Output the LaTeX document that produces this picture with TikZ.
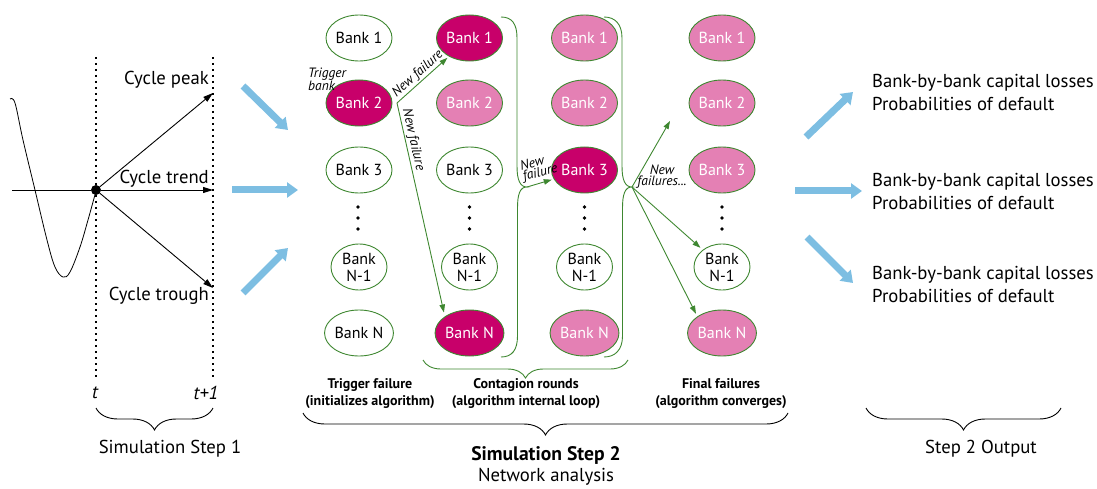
\documentclass[tikz,border=0pt]{standalone}
\usepackage{fontspec}
\setmainfont{PT Sans}
\usetikzlibrary{shapes.geometric,arrows.meta,decorations.pathreplacing}
\definecolor{netgreen}{RGB}{62,135,48}
\definecolor{failed}{RGB}{200,0,106}
\definecolor{hit}{RGB}{228,128,180}
\definecolor{flowblue}{RGB}{125,190,226}
\begin{document}
\begin{tikzpicture}[x=1pt,y=-1pt,
  bank/.style={ellipse,draw=netgreen,line width=0.9pt,minimum width=56pt,minimum height=46pt,
    inner sep=0pt,align=center,font=\fontsize{16}{17}\selectfont},
  ok/.style={bank,fill=white,text=black},
  fail/.style={bank,fill=failed,text=white},
  past/.style={bank,fill=hit,text=white},
  lbl/.style={font=\fontsize{18.7}{23}\selectfont,inner sep=0pt},
  note/.style={font=\fontsize{13.5}{11}\selectfont\itshape,inner sep=1pt},
  stage/.style={font=\fontsize{14}{17}\selectfont\bfseries,align=center,inner sep=0pt},
  gline/.style={draw=netgreen,line width=0.9pt},
  garrow/.style={gline,-{Triangle[length=8pt,width=5.5pt]},shorten >=2pt},
  karrow/.style={line width=0.9pt,-{Triangle[length=10pt,width=6pt]}},
  barrow/.style={draw=flowblue,line width=7pt,-{Triangle[length=11pt,width=15pt]}},
  guide/.style={line width=1.1pt,dash pattern=on 2pt off 4pt},
  curly/.style={decorate,decoration={brace,mirror,amplitude=#1},line width=0.9pt},
]
\useasboundingbox (0,0) rectangle (1097,489);

% ---------- Simulation step 1: business cycle scenarios ----------
\draw[guide] (96,57) -- (96,377);
\draw[guide] (213,57) -- (213,377);
\draw[line width=0.8pt] plot[smooth,tension=0.6] coordinates
  {(10,99) (15,103) (23,140) (35,190) (47,240) (55,267) (63,277) (70,272) (80,247) (88,220) (96,191)};
\coordinate (axisL) at (12,190);
\node[circle,fill=black,inner sep=0pt,minimum size=10pt] (now) at (96,190) {};
\coordinate (peak) at (213,93);
\coordinate (trend) at (213,190);
\coordinate (trough) at (213,288);
\draw[line width=0.9pt] (axisL) -- (now);
\draw[karrow] (now) -- (peak);
\draw[karrow] (now) -- (trend);
\draw[karrow] (now) -- (trough);
\node[lbl,anchor=east] (tpeak) at (209,80) {Cycle peak};
\node[lbl,anchor=east] (ttrend) at (209,179) {Cycle trend};
\node[lbl,anchor=east] (ttrough) at (209,296) {Cycle trough};
\node[lbl,font=\fontsize{18.7}{20}\selectfont\itshape] (tnow) at (95,393) {t};
\node[lbl,font=\fontsize{18.7}{20}\selectfont\itshape] (tnext) at (206,393) {t+1};
\draw[curly=22pt] (96,408) -- (213,408);
\node[lbl] (step1) at (170,449) {Simulation Step 1};

% ---------- flows into and out of the network analysis ----------
\draw[barrow] (243,86) -- (288,130);
\draw[barrow] (232,190) -- (298,190);
\draw[barrow] (243,293) -- (288,248);
\draw[barrow] (806,137) -- (853,92);
\draw[barrow] (795,191) -- (862,191);
\draw[barrow] (807,237) -- (853,283);

% ---------- Simulation step 2: contagion across the bank network ----------
% trigger column
\node[ok]   (a1) at (359,38)  {Bank 1};
\node[fail] (a2) at (359,103) {Bank 2};
\node[ok]   (a3) at (359,170) {Bank 3};
\node[ok]   (a4) at (359,267) {Bank\\N-1};
\node[ok]   (a5) at (359,333) {Bank N};
% first contagion round
\node[fail] (b1) at (469.5,38)  {Bank 1};
\node[past] (b2) at (469.5,103) {Bank 2};
\node[ok]   (b3) at (469.5,170) {Bank 3};
\node[ok]   (b4) at (469.5,267) {Bank\\N-1};
\node[fail] (b5) at (469.5,333) {Bank N};
% later contagion round
\node[past] (c1) at (584.5,38)  {Bank 1};
\node[past] (c2) at (584.5,103) {Bank 2};
\node[fail] (c3) at (584.5,170) {Bank 3};
\node[ok]   (c4) at (584.5,267) {Bank\\N-1};
\node[past] (c5) at (584.5,333) {Bank N};
% converged state
\node[past] (d1) at (722,38)  {Bank 1};
\node[past] (d2) at (722,103) {Bank 2};
\node[past] (d3) at (722,170) {Bank 3};
\node[ok]   (d4) at (722,267) {Bank\\N-1};
\node[past] (d5) at (722,333) {Bank N};
% vertical ellipsis between Bank 3 and Bank N-1
\foreach \cx in {358,469.5,584.5,722}
  \foreach \cy in {207,218,229}
    \fill (\cx,\cy) circle (1.8pt);

\node[note,align=left,anchor=west] (trig) at (307,79) {Trigger\\bank};

% trigger bank spreads losses
\coordinate (split) at (397,103);
\draw[garrow] (split) -- node[note,sloped,above,pos=0.5] {New failure} (b1);
\draw[garrow,shorten >=4pt] (split) -- node[note,sloped,above,pos=0.18] {New failure} (b5.north west);

% round brace gathering the first round
\coordinate (tip1) at (527,187);
\draw[gline] (501,17) .. controls (512,17) and (517,24) .. (517,38) -- (517,166)
  .. controls (517,180) and (520,187) .. (tip1)
  .. controls (520,187) and (517.5,194) .. (517.5,208) -- (517.5,336)
  .. controls (517.5,350) and (512,357) .. (501,357);
\draw[garrow] (tip1) -- (c3);
\node[note,align=left,rotate=14] (nf3) at (539,168) {New\\failure};

% round brace gathering the later round
\coordinate (tip2) at (632,187);
\coordinate (upfree) at (670,121);
\draw[gline] (604,17) .. controls (615,17) and (622,24) .. (622,38) -- (622,166)
  .. controls (622,180) and (625,187) .. (tip2)
  .. controls (625,187) and (622.5,194) .. (622.5,208) -- (622.5,336)
  .. controls (622.5,350) and (615,357) .. (604,357);
\draw[garrow,shorten >=0pt] (tip2) -- (upfree);
\draw[garrow,shorten >=3pt] (tip2) -- (d4);
\draw[garrow,shorten >=3pt] (tip2) -- (d5.north west);
\node[note,align=center] (nfs) at (662,177) {New\\failures...};

% stage captions
\draw[curly=18pt,draw=netgreen] (423,360) -- (628,360);
\node[stage] (s1) at (370,394) {Trigger failure\\(initializes algorithm)};
\node[stage] (s2) at (526,394) {Contagion rounds\\(algorithm internal loop)};
\node[stage] (s3) at (721,394) {Final failures\\(algorithm converges)};
\draw[curly=22pt] (303,413) -- (788,413);
\node[lbl,align=center,font=\fontsize{18.7}{21}\selectfont] (step2) at (546,466)
  {{\fontsize{19.6}{21}\selectfont\bfseries Simulation Step 2}\\Network analysis};

% ---------- Step 2 output ----------
\node[lbl,anchor=west,align=left] (out1) at (872,92) {Bank-by-bank capital losses\\Probabilities of default};
\node[lbl,anchor=west,align=left] (out2) at (872,191) {Bank-by-bank capital losses\\Probabilities of default};
\node[lbl,anchor=west,align=left] (out3) at (872,284) {Bank-by-bank capital losses\\Probabilities of default};
\draw[curly=22pt] (866,408) -- (1061,408);
\node[lbl] (outcap) at (981,449) {Step 2 Output};
\end{tikzpicture}
\end{document}
